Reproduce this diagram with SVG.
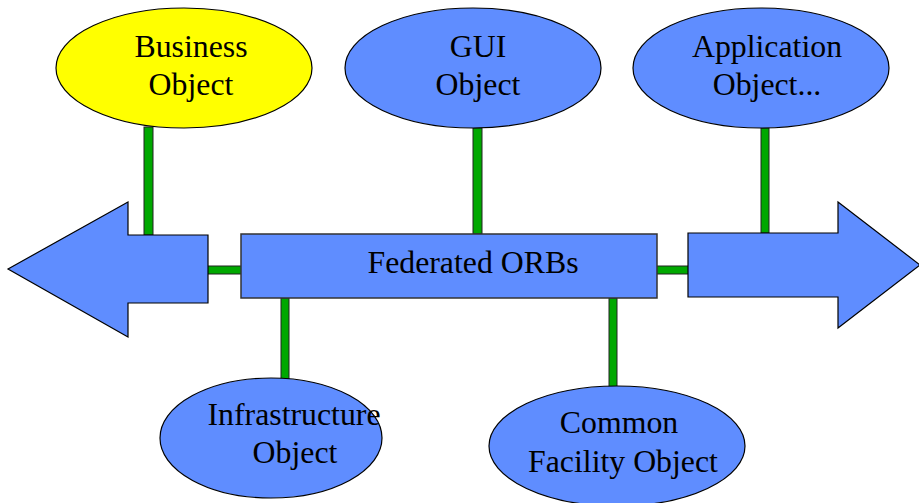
<svg xmlns="http://www.w3.org/2000/svg" width="919" height="503" viewBox="0 0 919 503">
<style>
.shape{fill:#5f8dff;stroke:#000;stroke-width:1.2}
.biz{fill:#ffff00;stroke:#000;stroke-width:1.2}
.conn{fill:#00a800;stroke:#222;stroke-width:1}
.box{fill:#5f8dff;stroke:#333;stroke-width:1.5}
text{font-family:"Liberation Serif","Times New Roman",serif;font-size:31.8px;fill:#000;text-anchor:middle}
</style>
<rect width="919" height="503" fill="#fff"/>
<g id="connectors">
<rect class="conn" x="144" y="127" width="9" height="108"/>
<rect class="conn" x="473" y="128" width="9" height="106"/>
<rect class="conn" x="761" y="128" width="8" height="105"/>
<rect class="conn" x="281" y="298" width="8" height="81"/>
<rect class="conn" x="609" y="298" width="8" height="89"/>
<rect class="conn" x="207" y="266" width="35" height="8"/>
<rect class="conn" x="656" y="266" width="33" height="8"/>
</g>
<g id="left-arrow">
<polygon class="shape" points="8,269 128,202 128,235 208,235 208,303 128,303 128,337"/>
</g>
<g id="right-arrow">
<polygon class="shape" points="688,233 838,233 838,202 920,265 838,328 838,297 688,297"/>
</g>
<g id="federated-orbs">
<rect class="box" x="241" y="234" width="416" height="64"/>
<text x="473" y="273">Federated ORBs</text>
</g>
<g id="business-object">
<ellipse class="biz" cx="184" cy="68" rx="128" ry="60"/>
<text x="191" y="57">Business</text>
<text x="191" y="95">Object</text>
</g>
<g id="gui-object">
<ellipse class="shape" cx="473" cy="68" rx="128" ry="60"/>
<text x="478" y="57">GUI</text>
<text x="478" y="95">Object</text>
</g>
<g id="application-object">
<ellipse class="shape" cx="761" cy="68" rx="128" ry="60"/>
<text x="767" y="57">Application</text>
<text x="767" y="95">Object...</text>
</g>
<g id="infrastructure-object">
<ellipse class="shape" cx="271" cy="438" rx="111" ry="60"/>
<text x="294" y="425">Infrastructure</text>
<text x="295" y="463">Object</text>
</g>
<g id="common-facility-object">
<ellipse class="shape" cx="617" cy="446" rx="128" ry="60"/>
<text x="619" y="433">Common</text>
<text x="623" y="472">Facility Object</text>
</g>
</svg>
